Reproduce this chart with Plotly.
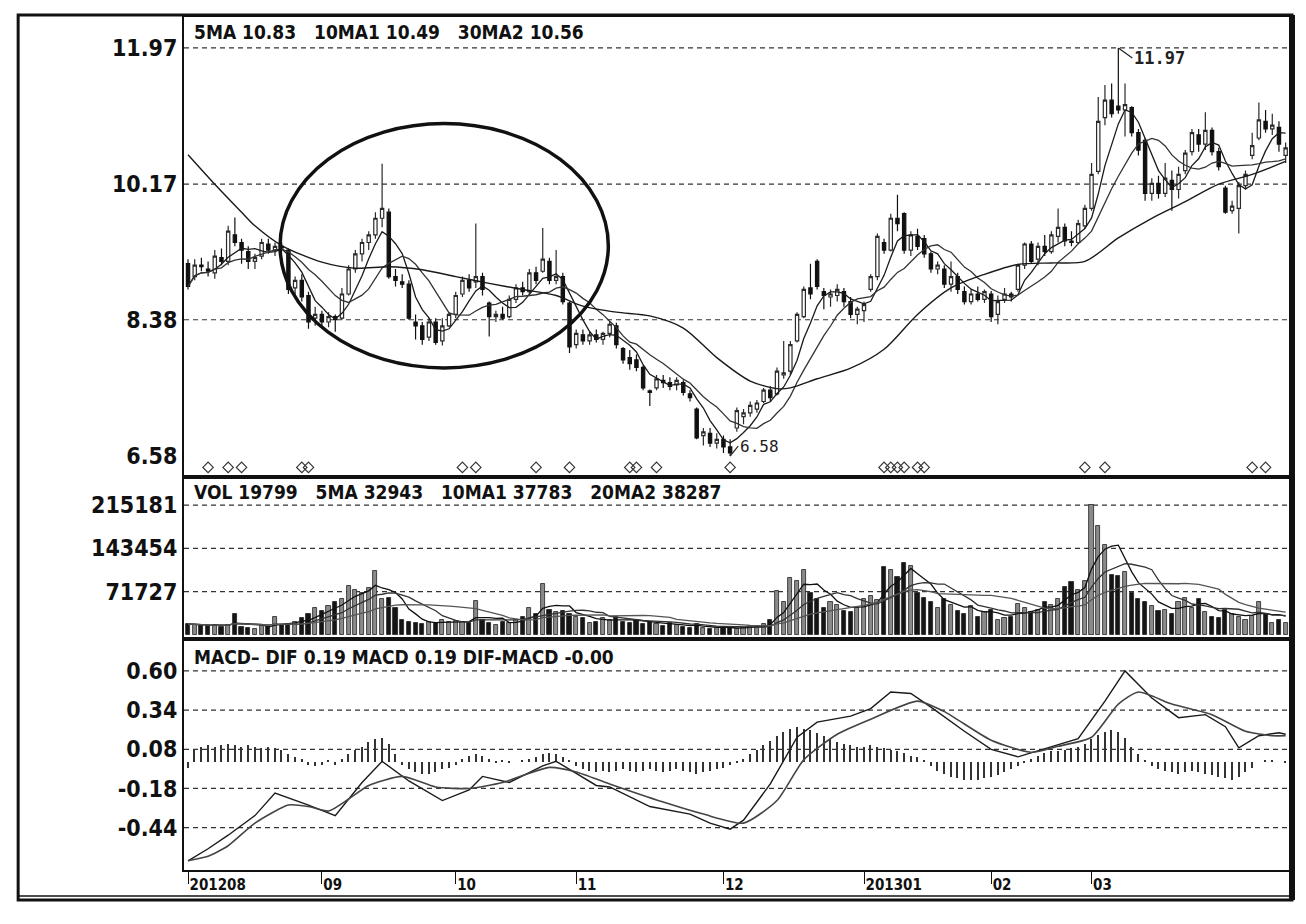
import plotly.graph_objects as go
import pandas as pd

# ---------------- data ----------------
opens = [9.12, 8.95, 9.10, 9.05, 9.00, 9.20, 9.15, 9.50, 9.40, 9.28, 9.15, 9.22, 9.38, 9.30, 9.35, 9.30, 8.80, 8.90, 8.70, 8.40,
         8.45, 8.35, 8.42, 8.40, 8.72, 9.05, 9.25, 9.40, 9.50, 9.72, 9.80, 8.95, 8.88, 8.85, 8.35, 8.30, 8.15, 8.35, 8.10, 8.30,
         8.45, 8.72, 8.90, 8.88, 8.95, 8.60, 8.42, 8.45, 8.42, 8.65, 8.80, 8.75, 9.00, 9.02, 9.15, 8.90, 8.95, 8.60,
         8.05, 8.18, 8.10, 8.18, 8.12, 8.20, 8.30, 8.00, 7.88, 7.85, 7.75, 7.44, 7.48, 7.58, 7.55, 7.52, 7.55, 7.40, 7.20, 6.85, 6.88, 6.75,
         6.80, 6.70, 6.95, 7.10, 7.15, 7.20, 7.30, 7.45, 7.40, 7.65, 7.70, 8.10, 8.42, 8.80, 9.15, 8.75, 8.68, 8.70, 8.75, 8.62, 8.45,
         8.50, 8.78, 8.95, 9.40, 9.30, 9.72, 9.78, 9.30, 9.48, 9.45, 9.25, 9.05, 9.05, 8.85, 8.95, 8.75, 8.62, 8.72, 8.65,
         8.72, 8.45, 8.65, 8.72, 8.78, 9.10, 9.38, 9.18, 9.35, 9.28, 9.48, 9.60, 9.42, 9.40, 9.62,
         9.85, 10.34, 11.05, 11.28, 11.20, 11.15, 11.18, 10.85, 10.75, 10.05, 10.18, 10.05, 10.22, 10.10, 10.35, 10.60, 10.82, 10.70, 10.88, 10.60,
         10.12, 9.82, 9.85, 10.15, 10.55, 10.78, 11.00, 10.90, 10.92, 10.55]
highs = [9.18, 9.18, 9.20, 9.15, 9.30, 9.32, 9.62, 9.73, 9.45, 9.35, 9.25, 9.45, 9.45, 9.40, 9.40, 9.32, 8.95, 8.98, 8.75, 8.55,
         8.50, 8.48, 8.45, 8.80, 9.10, 9.30, 9.45, 9.55, 9.80, 10.44, 9.85, 9.05, 8.98, 8.90, 8.45, 8.35, 8.40, 8.40, 8.40, 8.48,
         8.75, 8.95, 8.98, 9.65, 9.00, 8.62, 8.50, 8.55, 8.70, 8.85, 8.88, 9.05, 9.08, 9.59, 9.20, 9.30, 9.00, 8.62,
         8.25, 8.25, 8.22, 8.25, 8.22, 8.36, 8.34, 8.02, 7.98, 7.92, 7.78, 7.46, 7.65, 7.65, 7.62, 7.62, 7.58, 7.45, 7.22, 6.95, 6.95, 6.88,
         6.85, 6.80, 7.22, 7.20, 7.30, 7.32, 7.48, 7.50, 7.75, 8.10, 8.10, 8.48, 8.82, 9.12, 9.18, 8.80, 8.78, 8.85, 8.80, 8.68, 8.55,
         8.62, 8.98, 9.52, 9.45, 9.78, 10.03, 9.80, 9.55, 9.58, 9.50, 9.28, 9.15, 9.10, 9.15, 9.00, 8.82, 8.78, 8.82, 8.78,
         8.76, 8.70, 8.80, 8.75, 9.12, 9.40, 9.42, 9.40, 9.50, 9.55, 9.85, 9.65, 9.55, 9.70, 9.90,
         10.45, 11.32, 11.48, 11.50, 11.97, 11.50, 11.20, 10.90, 10.78, 10.25, 10.28, 10.45, 10.35, 10.40, 10.62, 10.90, 10.90, 11.12, 10.92, 10.65,
         10.15, 9.95, 10.20, 10.35, 10.85, 11.25, 11.15, 11.10, 11.00, 10.72]
lows = [8.78, 8.90, 9.02, 8.95, 8.92, 9.10, 9.10, 9.35, 9.12, 9.05, 9.05, 9.18, 9.25, 9.22, 9.28, 8.72, 8.70, 8.62, 8.26, 8.30,
        8.28, 8.28, 8.22, 8.38, 8.70, 9.00, 9.15, 9.30, 9.45, 9.60, 8.92, 8.82, 8.80, 8.38, 8.12, 8.05, 8.10, 8.05, 8.04, 8.28,
        8.40, 8.68, 8.75, 8.80, 8.70, 8.16, 8.35, 8.38, 8.40, 8.60, 8.70, 8.72, 8.85, 9.00, 8.85, 8.85, 8.58, 7.94,
        8.00, 8.05, 8.05, 8.08, 8.05, 8.15, 8.00, 7.80, 7.72, 7.70, 7.45, 7.24, 7.45, 7.48, 7.45, 7.45, 7.38, 7.30, 6.80, 6.72, 6.70, 6.68,
        6.62, 6.58, 6.90, 7.00, 7.10, 7.15, 7.28, 7.30, 7.38, 7.60, 7.65, 8.08, 8.40, 8.65, 8.78, 8.52, 8.55, 8.62, 8.55, 8.40, 8.32,
        8.35, 8.75, 8.90, 9.25, 9.28, 9.55, 9.25, 9.22, 9.30, 9.20, 9.00, 8.98, 8.80, 8.75, 8.72, 8.58, 8.58, 8.62, 8.60,
        8.35, 8.32, 8.60, 8.62, 8.75, 9.05, 9.12, 9.10, 9.22, 9.25, 9.40, 9.35, 9.35, 9.38, 9.58,
        9.82, 10.30, 10.95, 11.05, 11.10, 10.80, 10.80, 10.55, 9.95, 9.95, 9.98, 10.00, 9.82, 9.98, 10.30, 10.55, 10.60, 10.62, 10.55, 10.35,
        9.78, 9.78, 9.52, 10.10, 10.50, 10.75, 10.85, 10.82, 10.60, 10.45]
closes = [8.82, 9.10, 9.08, 9.02, 9.22, 9.15, 9.55, 9.40, 9.30, 9.15, 9.20, 9.40, 9.30, 9.35, 9.33, 8.78, 8.90, 8.68, 8.35, 8.45,
          8.35, 8.42, 8.38, 8.72, 9.05, 9.25, 9.40, 9.50, 9.72, 9.85, 8.95, 8.90, 8.85, 8.40, 8.30, 8.12, 8.35, 8.08, 8.30, 8.45,
          8.70, 8.90, 8.80, 8.95, 8.78, 8.42, 8.45, 8.40, 8.65, 8.80, 8.75, 9.00, 8.90, 9.18, 8.90, 8.95, 8.62, 8.02,
          8.20, 8.10, 8.18, 8.12, 8.20, 8.32, 8.05, 7.85, 7.80, 7.75, 7.48, 7.42, 7.60, 7.55, 7.50, 7.58, 7.42, 7.35, 6.82, 6.90, 6.75, 6.80,
          6.70, 6.62, 7.18, 7.15, 7.25, 7.28, 7.45, 7.35, 7.70, 7.68, 8.05, 8.45, 8.78, 8.72, 8.82, 8.70, 8.72, 8.78, 8.62, 8.45, 8.52,
          8.58, 8.95, 9.48, 9.30, 9.72, 9.65, 9.30, 9.50, 9.35, 9.25, 9.05, 9.10, 8.85, 8.95, 8.78, 8.62, 8.72, 8.65, 8.75,
          8.42, 8.62, 8.72, 8.68, 9.10, 9.38, 9.15, 9.35, 9.28, 9.50, 9.60, 9.42, 9.40, 9.65, 9.85,
          10.30, 11.00, 11.28, 11.10, 11.15, 11.22, 10.85, 10.62, 10.05, 10.18, 10.05, 10.25, 10.10, 10.30, 10.58, 10.85, 10.70, 10.88, 10.60, 10.40,
          9.80, 9.88, 10.15, 10.30, 10.68, 11.02, 10.90, 10.95, 10.70, 10.65]
volumes = [18000, 16000, 17000, 15000, 16000, 14000, 17000, 35000, 14000, 12000,
           10000, 15000, 14000, 30000, 16000, 18000, 22000, 28000, 35000, 45000,
           40000, 48000, 55000, 60000, 82000, 75000, 70000, 78000, 106000, 60000,
           62000, 45000, 25000, 22000, 20000, 18000, 22000, 20000, 24000, 21000,
           23000, 22000, 20000, 57000, 24000, 20000, 16000, 22000, 20000, 25000,
           30000, 45000, 35000, 85000, 42000, 38000, 40000, 35000, 30000, 28000,
           20000, 22000, 28000, 25000, 30000, 22000, 20000, 25000, 18000, 22000,
           18000, 15000, 20000, 16000, 14000, 12000, 18000, 12000, 10000, 11000,
           14000, 12000, 10000, 12000, 15000, 14000, 18000, 25000, 73000, 55000,
           95000, 90000, 107000, 70000, 60000, 45000, 55000, 50000, 40000, 38000,
           45000, 60000, 65000, 58000, 113000, 107000, 96000, 120000, 115000, 70000,
           62000, 55000, 45000, 60000, 50000, 40000, 35000, 48000, 30000, 38000,
           42000, 25000, 28000, 30000, 52000, 45000, 38000, 42000, 55000, 50000,
           60000, 80000, 88000, 75000, 90000, 215000, 181000, 150000, 100000, 98000,
           105000, 70000, 60000, 55000, 48000, 40000, 42000, 35000, 55000, 62000,
           45000, 60000, 38000, 30000, 28000, 42000, 35000, 30000, 25000, 32000,
           55000, 35000, 20000, 25000, 19799]
# 30-day MA read at selected bars
ma30_idx = [0, 4, 8, 10, 14, 20, 25, 30, 35, 40, 45, 50, 55, 59, 64, 69, 74, 79, 84, 88, 90, 94, 99, 104, 109,
            114, 119, 124, 129, 134, 139, 144, 149, 154, 159, 164]
ma30_val = [10.56, 10.17, 9.80, 9.62, 9.36, 9.14, 9.06, 9.08, 9.04, 8.95, 8.86, 8.78, 8.70, 8.56, 8.48, 8.43, 8.27, 7.88,
            7.57, 7.47, 7.48, 7.60, 7.74, 7.99, 8.45, 8.80, 8.98, 9.11, 9.13, 9.15, 9.46, 9.72, 9.94, 10.17, 10.30, 10.47]
# MACD lines read at selected bars
dif_idx = [0, 3, 6, 10, 13, 15, 18, 22, 26, 29, 33, 38, 42, 44, 48, 53, 55, 58, 61, 63, 69, 75, 78, 81, 83, 87, 91, 94,
           99, 102, 105, 108, 111, 116, 120, 124, 127, 133, 137, 140, 144, 148, 152, 155, 157, 160, 163, 164]
dif_val = [-0.66, -0.58, -0.49, -0.36, -0.21, -0.24, -0.29, -0.36, -0.14, 0.00, -0.13, -0.26, -0.19, -0.10, -0.14, -0.03,
           0.00, -0.08, -0.16, -0.17, -0.30, -0.35, -0.41, -0.45, -0.39, -0.15, 0.16, 0.26, 0.30, 0.35, 0.46, 0.45, 0.36,
           0.20, 0.08, 0.03, 0.07, 0.15, 0.40, 0.60, 0.42, 0.29, 0.31, 0.23, 0.09, 0.17, 0.19, 0.18]
dea_idx = [0, 3, 6, 10, 15, 18, 21, 24, 27, 32, 37, 42, 47, 54, 58, 63, 71, 77, 83, 88, 92, 97, 102, 109, 113, 120, 126,
           130, 135, 139, 142, 147, 153, 158, 162, 164]
dea_val = [-0.66, -0.63, -0.56, -0.41, -0.29, -0.30, -0.33, -0.25, -0.16, -0.10, -0.17, -0.18, -0.14, -0.04, -0.07,
           -0.15, -0.27, -0.35, -0.41, -0.26, 0.01, 0.18, 0.28, 0.40, 0.33, 0.14, 0.06, 0.10, 0.16, 0.38, 0.46, 0.38, 0.31,
           0.20, 0.17, 0.17]
macd_hist = [-0.04,
             0.08, 0.10, 0.11, 0.10, 0.11, 0.12, 0.11, 0.10, 0.11, 0.10, 0.09, 0.10, 0.09, 0.08,
             0.05, 0.03, 0.02,
             -0.02, -0.03, -0.02, 0.01, -0.02, 0.02,
             0.05, 0.08, 0.10, 0.13, 0.15, 0.16, 0.12, 0.05,
             -0.02, -0.05, -0.07, -0.08, -0.08, -0.07, -0.05, -0.04, -0.02,
             0.02, 0.04, 0.05, 0.04, 0.02, -0.01, 0.01,
             -0.01, 0.00, 0.01, 0.02, 0.03,
             0.05, 0.06, 0.05, 0.03, 0.01,
             -0.03, -0.05, -0.06, -0.07, -0.06, -0.07, -0.06, -0.05, -0.06, -0.07, -0.06, -0.05, -0.06, -0.07, -0.06,
             -0.05, -0.06, -0.07, -0.08, -0.07, -0.06, -0.05, -0.04, -0.02, -0.01,
             0.02, 0.05, 0.08, 0.11, 0.14, 0.17, 0.20, 0.22, 0.23, 0.22, 0.21, 0.19, 0.17, 0.15, 0.13, 0.12, 0.11, 0.10,
             0.10, 0.11, 0.10, 0.09, 0.08, 0.07, 0.06, 0.04, 0.03, 0.01,
             -0.03, -0.06, -0.08, -0.10, -0.11, -0.12, -0.12, -0.12, -0.11, -0.10, -0.09, -0.07, -0.05, -0.03, -0.01,
             0.02, 0.04, 0.06, 0.07, 0.07, 0.08, 0.09, 0.10, 0.12, 0.15, 0.18, 0.20, 0.21, 0.20, 0.16, 0.10, 0.05, 0.01,
             -0.03, -0.05, -0.06, -0.07, -0.08, -0.07, -0.06, -0.07, -0.08, -0.09, -0.10, -0.11, -0.12, -0.10, -0.07, -0.04,
             0.00, 0.01, 0.01, 0.00, -0.01]
signal_bars = [3, 6, 8, 17, 18, 41, 43, 52, 57, 66, 67, 70, 81, 104, 105, 106, 107, 109, 110, 134, 137, 159, 161]
month_ticks = [0, 20, 40, 58, 80, 101, 120, 135]
month_labels = ["201208", "09", "10", "11", "12", "201301", "02", "03"]
price_ticks = [11.97, 10.17, 8.38, 6.58]
vol_ticks = [215181, 143454, 71727]
macd_ticks = [0.60, 0.34, 0.08, -0.18, -0.44]

# ---------------- derived ----------------
N = len(closes)
xs = list(range(N))
cs = pd.Series(closes)
ma5 = cs.rolling(5, min_periods=1).mean()
ma10 = cs.rolling(10, min_periods=1).mean()
vs = pd.Series(volumes)
vma5 = vs.rolling(5, min_periods=1).mean()
vma10 = vs.rolling(10, min_periods=1).mean()
vma20 = vs.rolling(20, min_periods=1).mean()
up = [c >= o for o, c in zip(opens, closes)]

FONT = "DejaVu Sans Condensed, DejaVu Sans, Liberation Sans, sans-serif"

fig = go.Figure()
fig.add_trace(go.Candlestick(
    x=xs, open=opens, high=highs, low=lows, close=closes,
    increasing=dict(line=dict(color="#2a2a2a", width=1.2), fillcolor="#ffffff"),
    decreasing=dict(line=dict(color="#111111", width=1.2), fillcolor="#111111"),
    whiskerwidth=0, showlegend=False, xaxis="x", yaxis="y"))
fig.add_trace(go.Scatter(x=xs, y=ma5, mode="lines", line=dict(color="#1a1a1a", width=1.3),
                         showlegend=False, xaxis="x", yaxis="y"))
fig.add_trace(go.Scatter(x=xs, y=ma10, mode="lines", line=dict(color="#333333", width=1.3),
                         showlegend=False, xaxis="x", yaxis="y"))
fig.add_trace(go.Scatter(x=ma30_idx, y=ma30_val, mode="lines", line=dict(color="#1a1a1a", width=1.4, shape="spline", smoothing=0.8),
                         showlegend=False, xaxis="x", yaxis="y"))
fig.add_trace(go.Scatter(x=signal_bars, y=[6.43] * len(signal_bars), mode="markers",
                         marker=dict(symbol="diamond-open", size=8, color="#333", line=dict(width=1.2)),
                         showlegend=False, xaxis="x", yaxis="y"))

# volume
fig.add_trace(go.Bar(x=xs, y=volumes, width=0.62,
                     marker=dict(color=["#8a8a8a" if u else "#151515" for u in up],
                                 line=dict(color="#222", width=0.8)),
                     showlegend=False, xaxis="x2", yaxis="y2"))
for s, col in [(vma5, "#111"), (vma10, "#333"), (vma20, "#555")]:
    fig.add_trace(go.Scatter(x=xs, y=s, mode="lines", line=dict(color=col, width=1.3),
                             showlegend=False, xaxis="x2", yaxis="y2"))

# MACD
fig.add_trace(go.Bar(x=xs, y=macd_hist, width=0.22, marker=dict(color="#333", line=dict(width=0)),
                     showlegend=False, xaxis="x3", yaxis="y3"))
fig.add_trace(go.Scatter(x=dif_idx, y=dif_val, mode="lines", line=dict(color="#1a1a1a", width=1.4),
                         showlegend=False, xaxis="x3", yaxis="y3"))
fig.add_trace(go.Scatter(x=dea_idx, y=dea_val, mode="lines", line=dict(color="#444", width=1.6, shape="spline", smoothing=0.6),
                         showlegend=False, xaxis="x3", yaxis="y3"))

# page has an 8px body margin; figure coordinates = screen - 8
OFF = 8
W, H = 1290, 908
L = 184 - OFF
T = 15 - OFF
R = W - (1290 - OFF)
B = H - (870 - OFF)
PH = H - T - B
PW = W - L - R
def py(px):
    return (H - B - (px - OFF)) / PH
def pxx(px):
    return ((px - OFF) - L) / PW

dom_price = [py(476), 1]
dom_vol = [py(638), py(476)]
dom_macd = [0, py(638)]

axis_common = dict(showline=True, mirror=True, linecolor="#111", linewidth=2, showgrid=False, zeroline=False)
xr = [-0.6, 164.5]
tickfont = dict(family=FONT, size=23, color="#111", weight="bold")

fig.update_layout(
    width=W, height=H, margin=dict(l=L, r=R, t=T, b=B),
    paper_bgcolor="white", plot_bgcolor="white", bargap=0,
    xaxis=dict(domain=[0, 1], anchor="y", range=xr, showticklabels=False, rangeslider=dict(visible=False), **axis_common),
    xaxis2=dict(domain=[0, 1], anchor="y2", range=xr, showticklabels=False, **axis_common),
    xaxis3=dict(domain=[0, 1], anchor="y3", range=xr, tickmode="array", tickvals=month_ticks,
                ticktext=month_labels, ticks="outside", ticklen=12, tickwidth=1, tickcolor="#111",
                ticklabelposition="outside right",
                tickfont=dict(family=FONT, size=15, color="#111", weight="bold"), **axis_common),
    yaxis=dict(domain=dom_price, anchor="x", range=[6.304, 12.378], tickmode="array", tickvals=price_ticks,
               ticktext=[f"{v:.2f}" for v in price_ticks], tickfont=tickfont, ticks="", **axis_common),
    yaxis2=dict(domain=dom_vol, anchor="x2", range=[-6127, 262145], tickmode="array", tickvals=vol_ticks,
                ticktext=[str(v) for v in vol_ticks], tickfont=tickfont, ticks="", **axis_common),
    yaxis3=dict(domain=dom_macd, anchor="x3", range=[-0.721, 0.815], tickmode="array", tickvals=macd_ticks,
                ticktext=[f"{v:.2f}" for v in macd_ticks], tickfont=tickfont, ticks="", **axis_common),
)

shapes = []
for v in price_ticks[:3]:
    shapes.append(dict(type="line", xref="x domain", yref="y", x0=0, x1=1, y0=v, y1=v,
                       line=dict(color="#333", width=1.2, dash="5px,4px"), layer="below"))
for v in vol_ticks:
    shapes.append(dict(type="line", xref="x2 domain", yref="y2", x0=0, x1=1, y0=v, y1=v,
                       line=dict(color="#333", width=1.2, dash="5px,4px"), layer="below"))
for v in macd_ticks:
    shapes.append(dict(type="line", xref="x3 domain", yref="y3", x0=0, x1=1, y0=v, y1=v,
                       line=dict(color="#333", width=1.2, dash="5px,4px"), layer="below"))
# highlight ellipse around the consolidation zone
shapes.append(dict(type="circle", xref="x", yref="y", x0=13.75, x1=62.8, y0=7.744, y1=10.97,
                   line=dict(color="#111", width=3.5)))
# outer frame
shapes.append(dict(type="rect", xref="paper", yref="paper", x0=pxx(18), x1=pxx(1293), y0=py(900), y1=py(13),
                   line=dict(color="#111", width=3)))
shapes.append(dict(type="line", xref="paper", yref="paper", x0=pxx(1293), x1=pxx(1293), y0=py(900), y1=py(13),
                   line=dict(color="#111", width=6)))
shapes.append(dict(type="line", xref="paper", yref="paper", x0=pxx(18), x1=pxx(1293), y0=py(896), y1=py(896),
                   line=dict(color="#111", width=1.5)))
fig.update_layout(shapes=shapes)

hdr_font = dict(family=FONT, size=19, color="#111", weight="bold")
annotations = [
    dict(xref="paper", yref="paper", x=pxx(192), y=py(30), xanchor="left", yanchor="middle", showarrow=False,
         text="5MA 10.83   10MA1 10.49   30MA2 10.56", font=hdr_font),
    dict(xref="paper", yref="paper", x=pxx(192), y=py(491), xanchor="left", yanchor="middle", showarrow=False,
         text="VOL 19799   5MA 32943   10MA1 37783   20MA2 38287", font=hdr_font),
    dict(xref="paper", yref="paper", x=pxx(192), y=py(656), xanchor="left", yanchor="middle", showarrow=False,
         text="MACD– DIF 0.19 MACD 0.19 DIF-MACD -0.00", font=hdr_font),
    dict(xref="x", yref="y", x=139, y=11.97, ax=14, ay=10, showarrow=True, arrowhead=0, arrowwidth=1.2,
         arrowcolor="#222", xanchor="left", yanchor="middle", text="11.97",
         font=dict(family="DejaVu Sans Mono", size=17, color="#222", weight="bold")),
    dict(xref="x", yref="y", x=81, y=6.58, ax=8, ay=-10, showarrow=True, arrowhead=0, arrowwidth=1.2,
         arrowcolor="#222", xanchor="left", yanchor="middle", text="6.58",
         font=dict(family="DejaVu Sans Mono", size=16, color="#222")),
]
fig.update_layout(annotations=annotations)

fig.write_html("out.html")
